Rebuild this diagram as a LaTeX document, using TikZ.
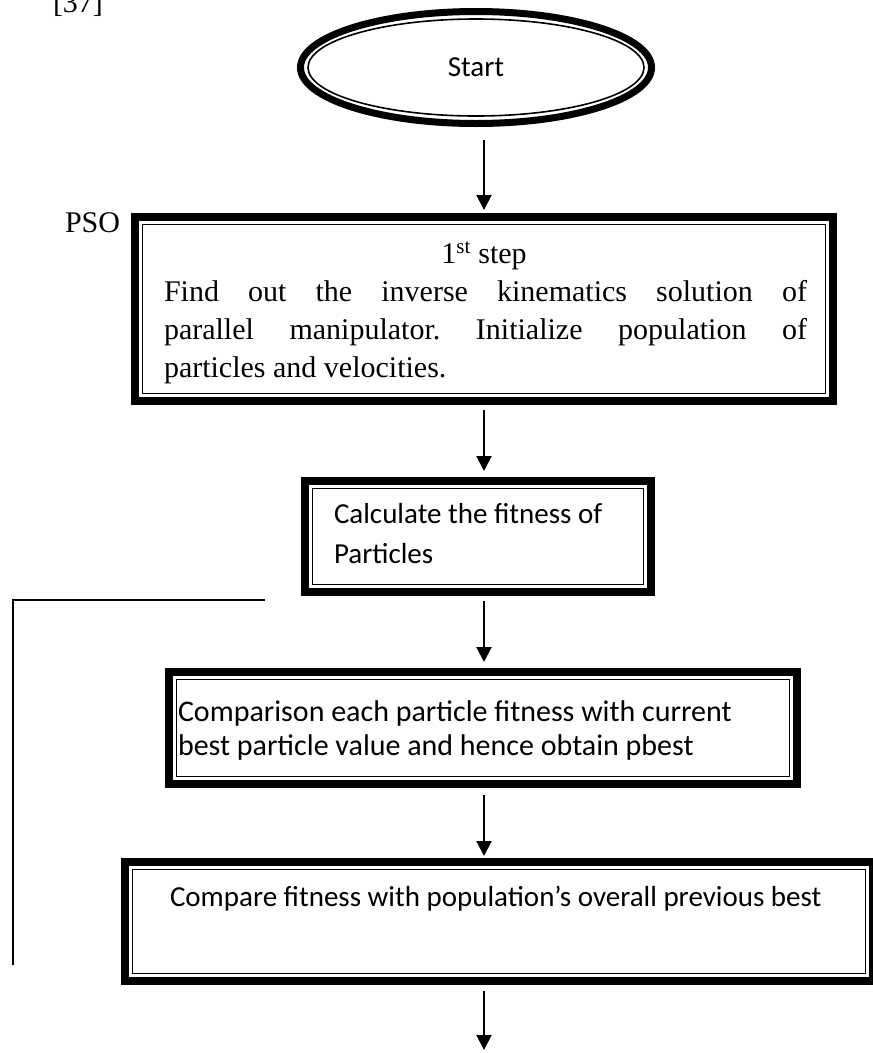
\documentclass[tikz,border=0pt]{standalone}
\usepackage{fontspec}
\setmainfont{Liberation Serif}
\newfontfamily\calib{Carlito}
\usetikzlibrary{arrows.meta,calc,shapes.geometric}
\frenchspacing

% thick outer band with a thin inner rule, drawn round a named box node
\newcommand\dframe[1]{%
  \draw[line width=8pt] ($(#1.north west)+(4,4)$) rectangle ($(#1.south east)+(-4,-4)$);
  \draw[line width=1.5pt] ($(#1.north west)+(11.3,11.3)$) rectangle ($(#1.south east)+(-11.3,-11.3)$);}

\begin{document}
\begin{tikzpicture}[x=1pt,y=-1pt,
  boxn/.style={rectangle,inner sep=0pt,outer sep=0pt,draw=none},
  txt/.style={inner sep=0pt,outer sep=0pt,font=\fontsize{30}{38}\selectfont},
  ctxt/.style={inner sep=0pt,outer sep=0pt,font=\calib\fontsize{29}{40}\selectfont},
  arr/.style={line width=2pt,-{Triangle[width=15pt,length=15pt]}},
  loopline/.style={line width=1.5pt}]
\useasboundingbox (0,0) rectangle (873,1053);

% reference tag and side label
\node[txt,anchor=base west] (ref) at (53,12) {[37]};
\node[txt,anchor=base west] (pso) at (65,232) {PSO};

% start terminal
\node[ellipse,inner sep=0pt,minimum width=358pt,minimum height=119pt] (start) at (476,67.5) {\calib\fontsize{29}{34}\selectfont Start};
\draw[line width=7pt] (start.center) ellipse [x radius=175.5pt, y radius=56pt];
\draw[line width=1.6pt] (start.center) ellipse [x radius=168pt, y radius=48.5pt];

% step 1
\node[boxn,minimum width=706pt,minimum height=192pt] (b1) at (484,309) {};
\dframe{b1}
\node[txt,anchor=base] (t1a) at (484,263) {1\textsuperscript{st} step};
\node[txt,anchor=base west] (t1b) at (164,301) {\makebox[643pt][s]{Find out the inverse kinematics solution of}};
\node[txt,anchor=base west] (t1c) at (164,339) {\makebox[643pt][s]{parallel manipulator. Initialize population of}};
\node[txt,anchor=base west] (t1d) at (164,377) {particles and velocities.};

% fitness evaluation
\node[boxn,minimum width=354pt,minimum height=119pt] (b2) at (478,536.5) {};
\dframe{b2}
\node[ctxt,anchor=base west] (t2a) at (334,523) {Calculate the fitness of};
\node[ctxt,anchor=base west] (t2b) at (334,563) {Particles};

% personal best
\node[boxn,minimum width=636pt,minimum height=120pt] (b3) at (483,728) {};
\dframe{b3}
\node[ctxt,anchor=base west,font=\calib\fontsize{30}{40}\selectfont] (t3a) at (178,721) {Comparison each particle fitness with current};
\node[ctxt,anchor=base west,font=\calib\fontsize{30}{40}\selectfont] (t3b) at (178,755) {best particle value and hence obtain pbest};

% global best
\node[boxn,minimum width=756pt,minimum height=127pt] (b4) at (499,921.5) {};
\dframe{b4}
\node[ctxt,anchor=base west] (t4a) at (170,906) {Compare fitness with population’s overall previous best};

% flow arrows
\coordinate (ax) at (484,0);
\coordinate (fin) at (484,1050);
\draw[arr,shorten <=13pt,shorten >=3pt] (start.south -| ax) -- (b1.north -| ax);
\draw[arr,shorten <=5pt,shorten >=6pt] (b1.south -| ax) -- (b2.north -| ax);
\draw[arr,shorten <=5pt,shorten >=6pt] (b2.south -| ax) -- (b3.north -| ax);
\draw[arr,shorten <=7pt,shorten >=2pt] (b3.south -| ax) -- (b4.north -| ax);
\draw[arr,shorten <=6pt] (b4.south -| ax) -- (fin);

% loop-back line on the left
\coordinate (lt) at (265,600);
\coordinate (lc) at (13,600);
\coordinate (lb) at (13,965);
\draw[loopline] (lt) -- (lc) -- (lb);
\end{tikzpicture}
\end{document}
